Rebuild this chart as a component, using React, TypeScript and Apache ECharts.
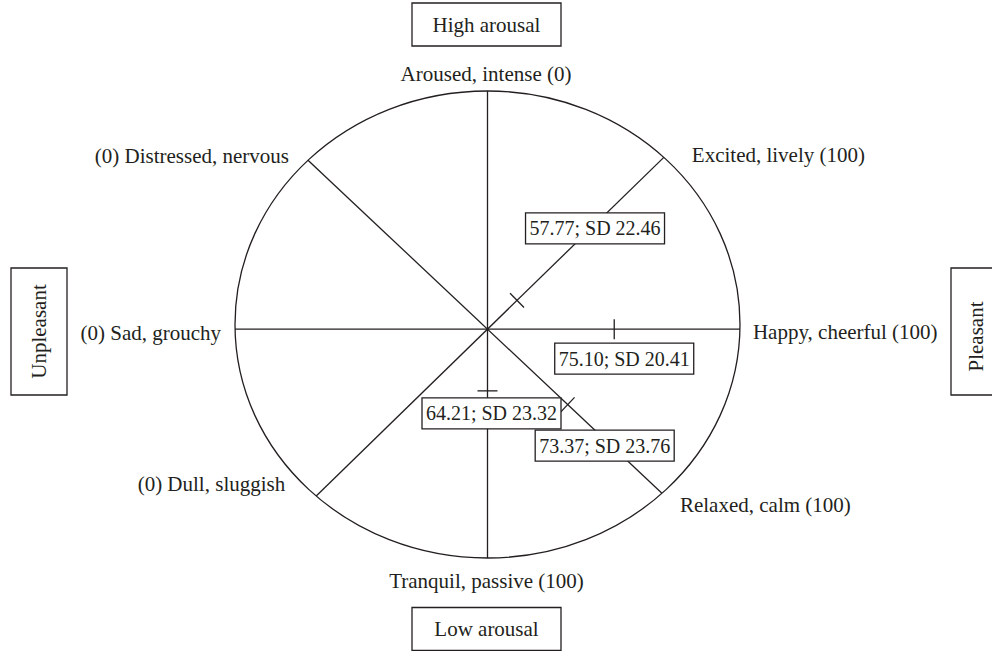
import React, { useEffect, useRef } from "react";
import * as echarts from "echarts";

// ---------- data ----------
const axisNames = ["Excited", "Happy", "Relaxed", "Tranquil"];
const lowPoleLabels = ["(0) Dull, sluggish", "(0) Sad, grouchy", "(0) Distressed, nervous", "Aroused, intense (0)"];
const highPoleLabels = ["Excited, lively (100)", "Happy, cheerful (100)", "Relaxed, calm (100)", "Tranquil, passive (100)"];
const meanValues = [57.77, 75.1, 73.37, 64.21];
const sdValues = [22.46, 20.41, 23.76, 23.32];
const scaleMin = 0;
const scaleMax = 100;
const dimensionLabels = ["High arousal", "Low arousal", "Unpleasant", "Pleasant"];

// ---------- layout ----------
const INK = "#231f20";
const FONT_OUTER = '21px "Liberation Serif", "Times New Roman", serif';
const FONT_BOX = '20px "Liberation Serif", "Times New Roman", serif';
const R = 100; // data-space radius of the circumplex
const HUB = [0, -2]; // where the spokes cross (data space)
const spokeAngleDeg = [46.5, 0, -45.5, -90]; // direction 0-end -> 100-end
const lowLabelLayout = [
  { dx: -31, dy: -12, align: "right" },
  { dx: -14, dy: 4, align: "right" },
  { dx: -19, dy: -4, align: "right" },
  { dx: -1.5, dy: -17.5, align: "center" },
];
const highLabelLayout = [
  { dx: 28, dy: -2.5, align: "left" },
  { dx: 13, dy: 3, align: "left" },
  { dx: 18, dy: 12, align: "left" },
  { dx: -1, dy: 23, align: "center" },
];
const valueBoxOffset = [
  [78, -72],
  [10, 29.5],
  [37, 41],
  [4, 22.5],
];
const BOX_W = 139;
const BOX_H = 31;
const TICK_HALF = 10;

function spokeEnds(i: number) {
  const a = (spokeAngleDeg[i] * Math.PI) / 180;
  const d = [Math.cos(a), Math.sin(a)];
  const hd = HUB[0] * d[0] + HUB[1] * d[1];
  const disc = Math.sqrt(hd * hd + R * R - (HUB[0] * HUB[0] + HUB[1] * HUB[1]));
  const tLow = -hd - disc;
  const tHigh = -hd + disc;
  return [
    [HUB[0] + tLow * d[0], HUB[1] + tLow * d[1]],
    [HUB[0] + tHigh * d[0], HUB[1] + tHigh * d[1]],
  ];
}

function frac(v: number) {
  return (v - scaleMin) / (scaleMax - scaleMin);
}

export default function App() {
  const ref = useRef<HTMLDivElement>(null);

  useEffect(() => {
    if (!ref.current) return;
    const chart = echarts.init(ref.current, null, { renderer: "svg" });

    const rows = axisNames.map((n, i) => [i, meanValues[i], sdValues[i]]);

    const option: any = {
      animation: false,
      backgroundColor: "#ffffff",
      grid: { left: 235, right: 252, top: 91, bottom: 93 },
      xAxis: { type: "value", min: -R, max: R, show: false },
      yAxis: { type: "value", min: -R, max: R, show: false },
      series: [
        {
          // ellipse frame + pole boxes
          type: "custom",
          silent: true,
          clip: false,
          z: 1,
          data: [[0, 0]],
          renderItem: (params: any, api: any) => {
            const c = api.coord([0, 0]);
            const px = api.coord([R, 0]);
            const py = api.coord([0, R]);
            const rx = px[0] - c[0];
            const ry = c[1] - py[1];
            const top = api.coord([0, R]);
            const bottom = api.coord([0, -R]);
            const left = api.coord([-R, 0]);
            const right = api.coord([R, 0]);
            const boxes = [
              { cx: top[0] - 1, cy: top[1] - 66.5, w: 149, h: 43, tx: 0, ty: 0, rot: 0 },
              { cx: bottom[0] - 1, cy: bottom[1] + 71, w: 149, h: 43, tx: 0, ty: 0, rot: 0 },
              { cx: left[0] - 196, cy: left[1] + 7, w: 56, h: 127, tx: 0, ty: 0, rot: Math.PI / 2 },
              { cx: right[0] + 239, cy: right[1] + 7, w: 56, h: 127, tx: -3, ty: 5, rot: Math.PI / 2 },
            ];
            const children: any[] = [
              {
                type: "ellipse",
                shape: { cx: c[0], cy: c[1], rx, ry },
                style: { fill: "none", stroke: INK, lineWidth: 1.3 },
              },
            ];
            boxes.forEach((b, k) => {
              children.push({
                type: "rect",
                shape: { x: b.cx - b.w / 2, y: b.cy - b.h / 2, width: b.w, height: b.h },
                style: { fill: "#ffffff", stroke: INK, lineWidth: 1.3 },
              });
              children.push({
                type: "text",
                x: b.cx + b.tx,
                y: b.cy + b.ty,
                rotation: b.rot,
                style: {
                  text: dimensionLabels[k],
                  font: FONT_OUTER,
                  fill: INK,
                  align: "center",
                  verticalAlign: "middle",
                },
              });
            });
            return { type: "group", children };
          },
        },
        {
          // spokes + pole labels
          type: "custom",
          silent: true,
          clip: false,
          z: 2,
          data: rows,
          renderItem: (params: any, api: any) => {
            const i = api.value(0);
            const [lo, hi] = spokeEnds(i);
            const p0 = api.coord(lo);
            const p1 = api.coord(hi);
            const ll = lowLabelLayout[i];
            const hl = highLabelLayout[i];
            return {
              type: "group",
              children: [
                {
                  type: "line",
                  shape: { x1: p0[0], y1: p0[1], x2: p1[0], y2: p1[1] },
                  style: { stroke: INK, lineWidth: 1.3 },
                },
                {
                  type: "text",
                  x: p0[0] + ll.dx,
                  y: p0[1] + ll.dy,
                  style: {
                    text: lowPoleLabels[i],
                    font: FONT_OUTER,
                    fill: INK,
                    align: ll.align,
                    verticalAlign: "middle",
                  },
                },
                {
                  type: "text",
                  x: p1[0] + hl.dx,
                  y: p1[1] + hl.dy,
                  style: {
                    text: highPoleLabels[i],
                    font: FONT_OUTER,
                    fill: INK,
                    align: hl.align,
                    verticalAlign: "middle",
                  },
                },
              ],
            };
          },
        },
        {
          // mean ticks + value boxes
          type: "custom",
          silent: true,
          clip: false,
          z: 3,
          data: rows,
          renderItem: (params: any, api: any) => {
            const i = api.value(0);
            const mean = api.value(1);
            const sd = api.value(2);
            const [lo, hi] = spokeEnds(i);
            const f = frac(mean);
            const pt = api.coord([lo[0] + f * (hi[0] - lo[0]), lo[1] + f * (hi[1] - lo[1])]);
            const p0 = api.coord(lo);
            const p1 = api.coord(hi);
            const len = Math.hypot(p1[0] - p0[0], p1[1] - p0[1]);
            const ux = (p1[0] - p0[0]) / len;
            const uy = (p1[1] - p0[1]) / len;
            const nx = -uy;
            const ny = ux;
            const off = valueBoxOffset[i];
            const bx = pt[0] + off[0];
            const by = pt[1] + off[1];
            return {
              type: "group",
              children: [
                {
                  type: "line",
                  shape: {
                    x1: pt[0] - nx * TICK_HALF,
                    y1: pt[1] - ny * TICK_HALF,
                    x2: pt[0] + nx * TICK_HALF,
                    y2: pt[1] + ny * TICK_HALF,
                  },
                  style: { stroke: INK, lineWidth: 1.3 },
                },
                {
                  type: "rect",
                  shape: { x: bx - BOX_W / 2, y: by - BOX_H / 2, width: BOX_W, height: BOX_H },
                  style: { fill: "#ffffff", stroke: INK, lineWidth: 1.3 },
                },
                {
                  type: "text",
                  x: bx,
                  y: by,
                  style: {
                    text: mean.toFixed(2) + "; SD " + sd.toFixed(2),
                    font: FONT_BOX,
                    fill: INK,
                    align: "center",
                    verticalAlign: "middle",
                  },
                },
              ],
            };
          },
        },
      ],
    };

    chart.setOption(option);
    return () => chart.dispose();
  }, []);

  return (
    <div
      ref={ref}
      style={{ position: "fixed", left: 0, top: 0, width: 992, height: 651, background: "#fff" }}
    />
  );
}
